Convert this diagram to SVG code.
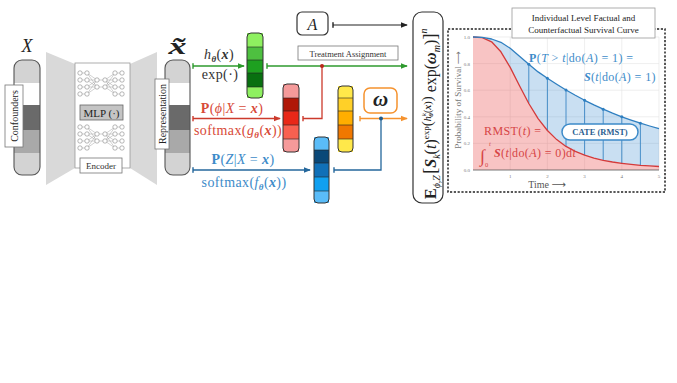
<svg xmlns="http://www.w3.org/2000/svg" xmlns:xlink="http://www.w3.org/1999/xlink" width="677" height="383" viewBox="0 0 677 383">
<style>
.serif{font-family:'Liberation Serif','DejaVu Serif',serif}
.it{font-style:italic}
.bi{font-style:italic;font-weight:bold}
.b{font-weight:bold}
.lbl{fill:#fff;stroke:#777;stroke-width:0.8}
.bar{fill:none;stroke:#333;stroke-width:1}
.sep{stroke:#222;stroke-width:0.6}
.gbar{fill:none;stroke:#555;stroke-width:1.1}
.grid{stroke:#e2e2e2;stroke-width:0.6}
.tick{font-size:5px;fill:#777}
.g{stroke:#2e9a2e;stroke-width:1.3;fill:none}
.r{stroke:#cc3a2c;stroke-width:1.3;fill:none}
.o{stroke:#f5922e;stroke-width:1.3;fill:none}
.bl{stroke:#24679c;stroke-width:1.3;fill:none}
.k{stroke:#222;stroke-width:1.2;fill:none}
.nnl{stroke:#9a9a9a;stroke-width:0.45;fill:none}
.nnc{fill:#fff;stroke:#888;stroke-width:0.6}
.ml{font-size:14px;letter-spacing:0.4px}
.pl{font-size:12px;letter-spacing:0.4px}
</style>
<defs>
<marker id="a-g" viewBox="0 0 8 8" refX="7" refY="4" markerWidth="7" markerHeight="7" markerUnits="userSpaceOnUse" orient="auto"><path d="M0,0.8L8,4L0,7.2z" fill="#2e9a2e"/></marker>
<marker id="a-r" viewBox="0 0 8 8" refX="7" refY="4" markerWidth="7" markerHeight="7" markerUnits="userSpaceOnUse" orient="auto"><path d="M0,0.8L8,4L0,7.2z" fill="#cc3a2c"/></marker>
<marker id="a-o" viewBox="0 0 8 8" refX="7" refY="4" markerWidth="7" markerHeight="7" markerUnits="userSpaceOnUse" orient="auto"><path d="M0,0.8L8,4L0,7.2z" fill="#f5922e"/></marker>
<marker id="a-b" viewBox="0 0 8 8" refX="7" refY="4" markerWidth="7" markerHeight="7" markerUnits="userSpaceOnUse" orient="auto"><path d="M0,0.8L8,4L0,7.2z" fill="#24679c"/></marker>
<marker id="a-k" viewBox="0 0 8 8" refX="7" refY="4" markerWidth="7" markerHeight="7" markerUnits="userSpaceOnUse" orient="auto"><path d="M0,0.8L8,4L0,7.2z" fill="#222"/></marker>
<marker id="t-g" viewBox="0 0 2 8" refX="1" refY="4" markerWidth="1.4" markerHeight="6" markerUnits="userSpaceOnUse" orient="auto"><rect width="2" height="8" fill="#2e9a2e"/></marker>
<marker id="t-r" viewBox="0 0 2 8" refX="1" refY="4" markerWidth="1.4" markerHeight="6" markerUnits="userSpaceOnUse" orient="auto"><rect width="2" height="8" fill="#cc3a2c"/></marker>
<marker id="t-o" viewBox="0 0 2 8" refX="1" refY="4" markerWidth="1.4" markerHeight="6" markerUnits="userSpaceOnUse" orient="auto"><rect width="2" height="8" fill="#f5922e"/></marker>
<marker id="t-b" viewBox="0 0 2 8" refX="1" refY="4" markerWidth="1.4" markerHeight="6" markerUnits="userSpaceOnUse" orient="auto"><rect width="2" height="8" fill="#24679c"/></marker>
<marker id="t-k" viewBox="0 0 2 8" refX="1" refY="4" markerWidth="1.4" markerHeight="6" markerUnits="userSpaceOnUse" orient="auto"><rect width="2" height="8" fill="#222"/></marker>
<clipPath id="cx"><rect x="14" y="60" width="26" height="115" rx="8"/></clipPath>
<clipPath id="cxt"><rect x="165" y="60" width="25" height="115" rx="8"/></clipPath>
<g id="nn">
<path class="nnl" d="M0,0H7M0,7H7M0,14H7M0,21H7M17,7H25M17,14H25M35,0H42M35,7H42M35,14H42M35,21H42M7,0L17,7M7,0L17,14M7,7L17,7M7,7L17,14M7,14L17,7M7,14L17,14M7,21L17,7M7,21L17,14M25,7L35,0M25,7L35,7M25,7L35,14M25,7L35,21M25,14L35,0M25,14L35,7M25,14L35,14M25,14L35,21"/>
<g class="nnc"><circle cx="0" cy="0" r="2.2"/><circle cx="0" cy="7" r="2.2"/><circle cx="0" cy="14" r="2.2"/><circle cx="0" cy="21" r="2.2"/><circle cx="7" cy="0" r="2.2"/><circle cx="7" cy="7" r="2.2"/><circle cx="7" cy="14" r="2.2"/><circle cx="7" cy="21" r="2.2"/><circle cx="17" cy="7" r="2.2"/><circle cx="17" cy="14" r="2.2"/><circle cx="25" cy="7" r="2.2"/><circle cx="25" cy="14" r="2.2"/><circle cx="35" cy="0" r="2.2"/><circle cx="35" cy="7" r="2.2"/><circle cx="35" cy="14" r="2.2"/><circle cx="35" cy="21" r="2.2"/><circle cx="42" cy="0" r="2.2"/><circle cx="42" cy="7" r="2.2"/><circle cx="42" cy="14" r="2.2"/><circle cx="42" cy="21" r="2.2"/></g>
</g>
</defs>
<rect width="677" height="383" fill="#fff"/>

<g id="encoder">
<polygon points="46,52 75,64 75,168 46,185" fill="#d9d9d9"/>
<polygon points="130,64 157,52 157,185 130,168" fill="#d9d9d9"/>
<rect x="75" y="63" width="55" height="105" fill="#fff" stroke="#999" stroke-width="0.8"/>
<use xlink:href="#nn" x="80" y="73"/>
<use xlink:href="#nn" x="80" y="127"/>
<rect x="80" y="105" width="43" height="15" fill="#c4c4c4" stroke="#666" stroke-width="0.8"/>
<text x="101.5" y="117" text-anchor="middle" class="serif" font-size="11" fill="#222">MLP (·)</text>
<rect x="80" y="158" width="42" height="15" class="lbl"/>
<text x="101" y="169" text-anchor="middle" class="serif" font-size="9" fill="#333">Encoder</text>
</g>

<g id="input-x">
<g clip-path="url(#cx)">
<rect x="14" y="60" width="26" height="23" fill="#d3d3d3"/>
<rect x="14" y="83" width="26" height="22" fill="#fff"/>
<rect x="14" y="105" width="26" height="25" fill="#6a6a6a"/>
<rect x="14" y="130" width="26" height="23" fill="#a9a9a9"/>
<rect x="14" y="153" width="26" height="22" fill="#d3d3d3"/>
</g>
<rect x="14" y="60" width="26" height="115" rx="8" class="gbar"/>
<text x="27" y="52" text-anchor="middle" class="serif it" font-size="18" fill="#222">X</text>
<rect x="5" y="85" width="18" height="62" class="lbl"/>
<text transform="translate(18,116) rotate(-90)" text-anchor="middle" class="serif" font-size="10" fill="#222">Confounders</text>
</g>

<g id="representation">
<g clip-path="url(#cxt)">
<rect x="165" y="60" width="25" height="23" fill="#d3d3d3"/>
<rect x="165" y="83" width="25" height="22" fill="#fff"/>
<rect x="165" y="105" width="25" height="25" fill="#6a6a6a"/>
<rect x="165" y="130" width="25" height="23" fill="#a9a9a9"/>
<rect x="165" y="153" width="25" height="22" fill="#d3d3d3"/>
</g>
<rect x="165" y="60" width="25" height="115" rx="8" class="gbar"/>
<text transform="translate(177.5,54) scale(1.5,1)" text-anchor="middle" class="serif bi" font-size="24" fill="#222">x̃</text>
<rect x="155" y="79" width="14" height="70" class="lbl"/>
<text transform="translate(165.5,114) rotate(-90)" text-anchor="middle" class="serif" font-size="10" fill="#222">Representation</text>
</g>

<g id="green-bar">
<rect x="247" y="33" width="16" height="14" fill="#8ef060"/>
<rect x="247" y="47" width="16" height="13" fill="#4ec040"/>
<rect x="247" y="60" width="16" height="13" fill="#1ea020"/>
<rect x="247" y="73" width="16" height="14" fill="#087010"/>
<rect x="247" y="87" width="16" height="11" fill="#8ef060"/>
<path class="sep" d="M247,47H263M247,60H263M247,73H263M247,87H263"/>
<rect x="247" y="33" width="16" height="65" rx="4" class="bar"/>
</g>

<g id="red-bar">
<rect x="283" y="84" width="16" height="14" fill="#f59a9a"/>
<rect x="283" y="98" width="16" height="13" fill="#b01808"/>
<rect x="283" y="111" width="16" height="14" fill="#e82818"/>
<rect x="283" y="125" width="16" height="14" fill="#f86050"/>
<rect x="283" y="139" width="16" height="13" fill="#f59a9a"/>
<path class="sep" d="M283,98H299M283,111H299M283,125H299M283,139H299"/>
<rect x="283" y="84" width="16" height="68" rx="4" class="bar"/>
</g>

<g id="yellow-bar">
<rect x="338" y="86" width="15" height="12" fill="#ffe84a"/>
<rect x="338" y="98" width="15" height="13" fill="#ffd028"/>
<rect x="338" y="111" width="15" height="14" fill="#ffae00"/>
<rect x="338" y="125" width="15" height="14" fill="#f07800"/>
<rect x="338" y="139" width="15" height="13" fill="#ffe84a"/>
<path class="sep" d="M338,98H353M338,111H353M338,125H353M338,139H353"/>
<rect x="338" y="86" width="15" height="66" rx="4" class="bar"/>
</g>

<g id="blue-bar">
<rect x="314" y="137" width="15" height="13" fill="#5abcf8"/>
<rect x="314" y="150" width="15" height="13" fill="#0a4878"/>
<rect x="314" y="163" width="15" height="14" fill="#1070b8"/>
<rect x="314" y="177" width="15" height="14" fill="#10a0f0"/>
<rect x="314" y="191" width="15" height="12" fill="#5abcf8"/>
<path class="sep" d="M314,150H329M314,163H329M314,177H329M314,191H329"/>
<rect x="314" y="137" width="15" height="66" rx="4" class="bar"/>
</g>

<g id="treatment">
<rect x="297" y="12" width="31" height="23" rx="5" fill="#fff" stroke="#333" stroke-width="1.2"/>
<text x="312.5" y="30" text-anchor="middle" class="serif it" font-size="16" fill="#222">A</text>
<rect x="298" y="46" width="100" height="14" class="lbl"/>
<text x="348" y="56.5" text-anchor="middle" class="serif" font-size="8.5" fill="#333">Treatment Assignment</text>
</g>

<g id="omega">
<rect x="364" y="88" width="33" height="25" rx="6" fill="#fff" stroke="#f5922e" stroke-width="1.5"/>
<text x="380.5" y="106" text-anchor="middle" class="serif bi" font-size="21" fill="#222">ω</text>
</g>

<g id="expectation">
<rect x="413" y="12" width="30" height="191" rx="9" fill="#fff" stroke="#333" stroke-width="1.2"/>
<text transform="translate(436,199) rotate(-90)" class="serif" font-size="16" fill="#222"><tspan class="b">E</tspan><tspan class="it" font-size="10" dy="3.5">ϕ,Z</tspan><tspan font-size="19" dy="-3.5" dx="1">[</tspan><tspan class="bi">S</tspan><tspan class="it" font-size="10" dy="3.5">k</tspan><tspan dy="-3.5">(</tspan><tspan class="it">t</tspan><tspan>)</tspan><tspan font-size="9" dy="-7">exp</tspan><tspan font-size="15" dy="2.5">(</tspan><tspan class="it" font-size="10" dy="-1">h</tspan><tspan class="it" font-size="7" dy="-4.5">k</tspan><tspan class="bi" font-size="7" dy="7" dx="-3.5">θ</tspan><tspan font-size="10" dy="-2.5">(</tspan><tspan class="bi" font-size="10">x</tspan><tspan font-size="10">)</tspan><tspan font-size="15" dy="1">)</tspan><tspan dy="4.5"> exp(</tspan><tspan class="bi">ω</tspan><tspan class="it" font-size="10" dy="3.5">m</tspan><tspan dy="-3.5">)</tspan><tspan font-size="19">]</tspan><tspan class="it" font-size="10" dy="-9">n</tspan></text>
</g>

<g id="survival-plot">
<rect x="448" y="29" width="217" height="163" fill="#fff" stroke="#222" stroke-width="1.5" stroke-dasharray="2.2,1.6"/>
<path class="grid" d="M510.2,37V170M547.4,37V170M584.6,37V170M621.8,37V170M659,37V170M473,143.4H659M473,116.8H659M473,90.2H659M473,63.6H659M473,37H659"/>
<polygon fill="#e84848" fill-opacity="0.32" points="473,37 482.3,37.6 491.6,41.8 500.9,51.8 510.2,67.4 519.5,85.8 528.8,103.5 538.1,118.6 547.4,130.5 556.7,139.6 566,146.4 575.3,151.4 584.6,155.2 593.9,158.1 603.2,160.3 612.5,162 621.8,163.3 631.1,164.4 640.4,165.3 649.7,165.9 659,166.5 659,170 473,170"/>
<polygon fill="#3d8bd0" fill-opacity="0.28" points="473,37 482.3,37.4 491.6,39 500.9,42.3 510.2,48.3 519.5,56.3 528.8,64.3 538.1,71.9 547.4,78.2 556.7,84.2 566,90 575.3,95.3 584.6,100.3 593.9,104.9 603.2,109.2 612.5,113.2 621.8,116.8 631.1,120.1 640.4,123.2 649.7,126 659,128.6 659,166.5 649.7,165.9 640.4,165.3 631.1,164.4 621.8,163.3 612.5,162 603.2,160.3 593.9,158.1 584.6,155.2 575.3,151.4 566,146.4 556.7,139.6 547.4,130.5 538.1,118.6 528.8,103.5 519.5,85.8 510.2,67.4 500.9,51.8 491.6,41.8 482.3,37.6"/>
<path d="M528.8,64.3V103.5M547.4,78.2V130.5M566,90V146.4M584.6,100.3V155.2M603.2,109.2V160.3M621.8,116.8V163.3M640.4,123.2V165.3" stroke="#3a86c4" stroke-width="0.9"/>
<polyline fill="none" stroke="#d43a3a" stroke-width="1.3" stroke-linejoin="round" points="473,37 482.3,37.6 491.6,41.8 500.9,51.8 510.2,67.4 519.5,85.8 528.8,103.5 538.1,118.6 547.4,130.5 556.7,139.6 566,146.4 575.3,151.4 584.6,155.2 593.9,158.1 603.2,160.3 612.5,162 621.8,163.3 631.1,164.4 640.4,165.3 649.7,165.9 659,166.5"/>
<polyline fill="none" stroke="#2f7fc0" stroke-width="1.3" stroke-linejoin="round" points="473,37 482.3,37.4 491.6,39 500.9,42.3 510.2,48.3 519.5,56.3 528.8,64.3 538.1,71.9 547.4,78.2 556.7,84.2 566,90 575.3,95.3 584.6,100.3 593.9,104.9 603.2,109.2 612.5,113.2 621.8,116.8 631.1,120.1 640.4,123.2 649.7,126 659,128.6"/>
<g fill="#2f7fc0"><circle cx="528.8" cy="64.3" r="1.5"/><circle cx="547.4" cy="78.2" r="1.5"/><circle cx="566" cy="90" r="1.5"/><circle cx="584.6" cy="100.3" r="1.5"/><circle cx="603.2" cy="109.2" r="1.5"/><circle cx="621.8" cy="116.8" r="1.5"/><circle cx="640.4" cy="123.2" r="1.5"/></g>
<path d="M473,170H659" stroke="#555" stroke-width="0.8"/>
<g class="serif tick" text-anchor="end"><text x="470" y="39">1.0</text><text x="470" y="65.5">0.8</text><text x="470" y="92">0.6</text><text x="470" y="118.5">0.4</text><text x="470" y="145">0.2</text><text x="470" y="171.5">0.0</text></g>
<g class="serif tick" text-anchor="middle"><text x="510.2" y="178">1</text><text x="547.4" y="178">2</text><text x="584.6" y="178">3</text><text x="621.8" y="178">4</text><text x="659" y="178">5</text></g>
<text transform="translate(461,100) rotate(-90)" text-anchor="middle" font-family="'Liberation Serif','DejaVu Sans',serif" font-size="9" fill="#777">Probability of Survival ⟶</text>
<text x="547" y="188" text-anchor="middle" font-family="'Liberation Serif','DejaVu Sans',serif" font-size="10" fill="#555">Time ⟶</text>
<text x="529" y="62" class="serif pl" fill="#3d8bc9"><tspan class="b">P</tspan>(<tspan class="it">T</tspan> &gt; <tspan class="it">t</tspan>|do(<tspan class="it">A</tspan>) = 1) =</text>
<text x="656" y="81" text-anchor="end" class="serif pl" fill="#3d8bc9"><tspan class="bi">S</tspan>(<tspan class="it">t</tspan>|do(<tspan class="it">A</tspan>) = 1)</text>
<text x="484" y="135" class="serif pl" fill="#d64545">RMST(<tspan class="it">t</tspan>) =</text>
<text x="480" y="162" class="serif it" font-size="18" fill="#d64545">∫</text>
<text x="489" y="146" class="serif it" font-size="6.5" fill="#d64545">t</text>
<text x="485" y="167" class="serif" font-size="6.5" fill="#d64545">0</text>
<text x="494" y="157" class="serif pl" fill="#d64545"><tspan class="bi">S</tspan>(<tspan class="it">t</tspan>|do(<tspan class="it">A</tspan>) = 0)d<tspan class="it">t</tspan></text>
<rect x="562" y="124" width="76" height="16" rx="8" fill="#fff" stroke="#3d8bc9" stroke-width="1.5"/>
<text x="600" y="135" text-anchor="middle" class="serif b" font-size="8.5" fill="#2a6090">CATE (RMST)</text>
<rect x="512" y="8" width="143" height="30" fill="#fff" stroke="#999" stroke-width="0.8"/>
<text x="583.5" y="21" text-anchor="middle" class="serif" font-size="9" fill="#222">Individual Level Factual and</text>
<text x="583.5" y="33" text-anchor="middle" class="serif" font-size="9" fill="#222">Counterfactual Survival Curve</text>
</g>

<g id="connectors">
<line x1="193" y1="66" x2="244" y2="66" class="g" marker-start="url(#t-g)" marker-end="url(#a-g)"/>
<line x1="267" y1="66" x2="407" y2="66" class="g" marker-start="url(#t-g)" marker-end="url(#a-g)"/>
<line x1="193" y1="118.5" x2="280" y2="118.5" class="r" marker-start="url(#t-r)" marker-end="url(#a-r)"/>
<polyline points="322,66 322,118.5 303,118.5" class="r" marker-end="url(#t-r)"/>
<circle cx="322" cy="66" r="2" fill="#b82818"/>
<line x1="360" y1="118.5" x2="407" y2="118.5" class="o" marker-start="url(#t-o)" marker-end="url(#a-o)"/>
<line x1="193" y1="170" x2="310" y2="170" class="bl" marker-start="url(#t-b)" marker-end="url(#a-b)"/>
<polyline points="381,118.5 381,170 334,170" class="bl" marker-end="url(#t-b)"/>
<circle cx="381" cy="118.5" r="2" fill="#1f5a8a"/>
<line x1="333" y1="25" x2="407" y2="25" class="k" marker-start="url(#t-k)" marker-end="url(#a-k)"/>
</g>

<g id="connector-labels">
<text x="219" y="59" text-anchor="middle" class="serif ml" fill="#333"><tspan class="it">h</tspan><tspan class="bi" font-size="9" dy="2.5">θ</tspan><tspan dy="-2.5">(</tspan><tspan class="bi">x</tspan>)</text>
<text x="220" y="79" text-anchor="middle" class="serif ml" fill="#333">exp(·)</text>
<text x="232" y="113" text-anchor="middle" class="serif ml" fill="#d84a38"><tspan class="b">P</tspan>(<tspan class="it">ϕ</tspan>|<tspan class="it">X</tspan> = <tspan class="bi">x</tspan>)</text>
<text x="238" y="135" text-anchor="middle" class="serif ml" fill="#d84a38">softmax(<tspan class="it">g</tspan><tspan class="bi" font-size="9" dy="2.5">θ</tspan><tspan dy="-2.5">(</tspan><tspan class="bi">x</tspan>))</text>
<text x="243" y="164" text-anchor="middle" class="serif ml" fill="#3d8bc9"><tspan class="b">P</tspan>(<tspan class="it">Z</tspan>|<tspan class="it">X</tspan> = <tspan class="bi">x</tspan>)</text>
<text x="244" y="187" text-anchor="middle" class="serif ml" fill="#3d8bc9">softmax(<tspan class="it">f</tspan><tspan class="bi" font-size="9" dy="2.5">θ</tspan><tspan dy="-2.5">(</tspan><tspan class="bi">x</tspan>))</text>
</g>
</svg>
